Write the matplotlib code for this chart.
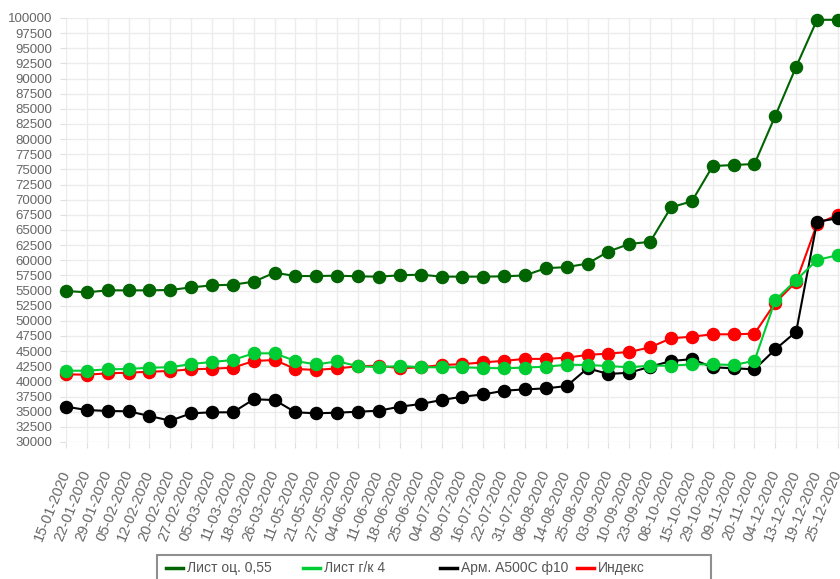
import matplotlib
matplotlib.use('Agg')
import matplotlib.pyplot as plt
from matplotlib.lines import Line2D
from matplotlib.patches import Rectangle

plt.rcParams['font.family'] = ['Liberation Sans', 'DejaVu Sans']

dates = ['15-01-2020', '22-01-2020', '29-01-2020', '05-02-2020', '12-02-2020',
         '20-02-2020', '27-02-2020', '05-03-2020', '11-03-2020', '18-03-2020',
         '26-03-2020', '11-05-2020', '21-05-2020', '27-05-2020', '04-06-2020',
         '11-06-2020', '18-06-2020', '25-06-2020', '04-07-2020', '09-07-2020',
         '16-07-2020', '22-07-2020', '31-07-2020', '08-08-2020', '14-08-2020',
         '25-08-2020', '03-09-2020', '10-09-2020', '23-09-2020', '08-10-2020',
         '15-10-2020', '29-10-2020', '09-11-2020', '20-11-2020', '04-12-2020',
         '13-12-2020', '19-12-2020', '25-12-2020']

list_055 = [54930, 54710, 55040, 55040, 55040, 55100, 55530, 55860, 55970, 56470,
            57950, 57400, 57400, 57460, 57350, 57300, 57520, 57630, 57300, 57300,
            57300, 57350, 57500, 58700, 58870, 59460, 61440, 62700, 63050, 68740,
            69740, 75560, 75730, 75900, 83870, 91960, 99700, 99700]
list_gk4 = [41770, 41770, 42000, 42050, 42270, 42330, 42880, 43210, 43540, 44640,
            44640, 43370, 42800, 43320, 42520, 42350, 42550, 42350, 42330, 42330,
            42220, 42170, 42280, 42440, 42760, 42710, 42550, 42330, 42600, 42600,
            42820, 42820, 42710, 43400, 53440, 56740, 60050, 60850]
arm_a500 = [35830, 35280, 35120, 35070, 34290, 33520, 34740, 34900, 34900, 37050,
            36930, 34900, 34740, 34840, 35000, 35170, 35830, 36270, 36930, 37480,
            37850, 38470, 38690, 38850, 39240, 42170, 41230, 41440, 42430, 43370,
            43680, 42330, 42170, 42000, 45300, 48210, 66370, 66930]
index_ = [41170, 41110, 41340, 41440, 41610, 41720, 42000, 42100, 42270, 43370,
          43540, 42050, 41900, 42150, 42500, 42600, 42170, 42330, 42710, 42850,
          43150, 43400, 43720, 43720, 43920, 44380, 44600, 44860, 45630, 47120,
          47390, 47780, 47780, 47880, 53000, 56470, 66000, 67500]

names = ['Лист оц. 0,55', 'Лист г/к 4', 'Арм. А500С ф10', 'Индекс']
colors = ['#006400', '#00cc33', '#000000', '#ff0000']
series = [list_055, list_gk4, arm_a500, index_]

W, H = 840, 579
fig = plt.figure(figsize=(W / 100, H / 100), dpi=100)
ax = fig.add_axes([66 / W, 137 / H, 774 / W, 424 / H])

x = list(range(len(dates)))
for i, (vals, c) in enumerate(zip(series, colors)):
    ax.plot(x, vals, color=c, lw=1.5, marker='o', ms=8.7, mec=c,
            zorder=10 - i, clip_on=False)

ax.set_xlim(0, 37.1)
ax.set_ylim(30000, 100000)
ax.set_yticks(range(30000, 100001, 2500))
ax.set_xticks(x)
ax.set_xticklabels(dates, rotation=68, ha='right', va='center',
                   rotation_mode='anchor')
ax.grid(True, color='#ececec', lw=1)
ax.set_axisbelow(True)
for s in ax.spines.values():
    s.set_visible(False)
ax.tick_params(axis='both', colors='#e0e0e0', length=4, labelcolor='#666666')
ax.tick_params(axis='y', labelsize=9.5, pad=6)
ax.tick_params(axis='x', labelsize=10.5, pad=17)

# legend box drawn in pixel coords
fx = lambda px: px / W
fy = lambda py: 1 - py / H
fig.add_artist(Rectangle((fx(157), fy(600)), 554 / W, 45 / H,
                         transform=fig.transFigure, fill=False,
                         ec='#8f8f8f', lw=1.5))
for i, (n, c) in enumerate(zip(names, colors)):
    x0 = 166 + 137 * i
    fig.add_artist(Line2D([fx(x0), fx(x0 + 17)], [fy(568), fy(568)],
                          transform=fig.transFigure, color=c, lw=2.5))
    fig.text(fx(x0 + 21), fy(568), n, va='center', ha='left',
             fontsize=10, color='#555555')

fig.savefig('out.png', dpi=100)
